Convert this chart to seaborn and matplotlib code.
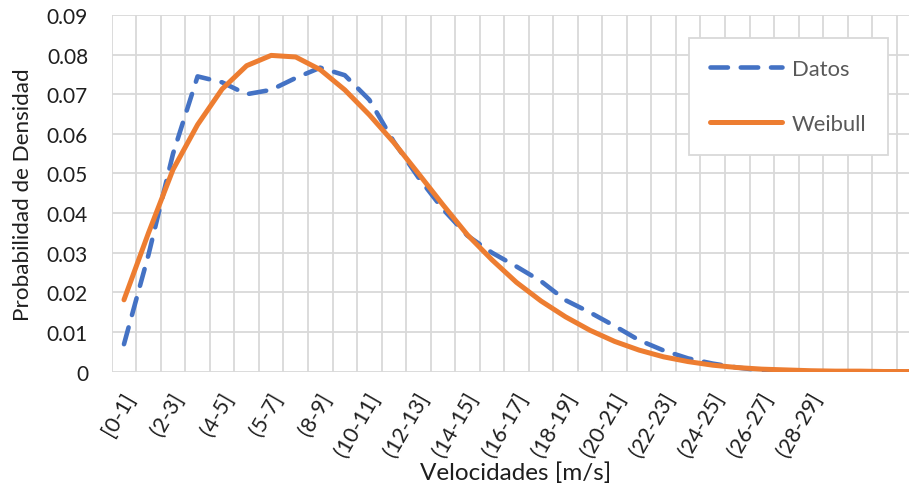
import numpy as np
import pandas as pd
import matplotlib
matplotlib.use("Agg")
import matplotlib.pyplot as plt
import matplotlib.transforms as mtransforms
import seaborn as sns

# ---- data ----
categories = ["[0-1]", "(1-2]", "(2-3]", "(3-4]", "(4-5]", "(5-6]", "(5-7]", "(7-8]",
              "(8-9]", "(9-10]", "(10-11]", "(11-12]", "(12-13]", "(13-14]", "(14-15]",
              "(15-16]", "(16-17]", "(17-18]", "(18-19]", "(19-20]", "(20-21]", "(21-22]",
              "(22-23]", "(23-24]", "(24-25]", "(25-26]", "(26-27]", "(27-28]", "(28-29]",
              "", " ", "  ", "   "]
datos = [0.0069, 0.0295, 0.0550, 0.0745, 0.0730, 0.0700, 0.0711, 0.0741, 0.0767, 0.0748,
         0.0686, 0.0580, 0.0490, 0.0410, 0.0343, 0.0300, 0.0265, 0.0228, 0.0180, 0.0149,
         0.0115, 0.0079, 0.0053, 0.0033, 0.0020, 0.0010, 0.0003, 0.0001, 0.0000, 0.0000,
         0.0000, 0.0000, 0.0000]
weibull = [0.0181, 0.0350, 0.0510, 0.0623, 0.0713, 0.0772, 0.0798, 0.0794, 0.0762, 0.0711,
           0.0648, 0.0578, 0.0500, 0.0421, 0.0345, 0.0282, 0.0225, 0.0178, 0.0138, 0.0104,
           0.0076, 0.0054, 0.0037, 0.0025, 0.0016, 0.0010, 0.0006, 0.0004, 0.0002, 0.0001,
           0.0001, 0.0000, 0.0000]
tick_labels = categories[0:29:2]
y_ticks = [0, 0.01, 0.02, 0.03, 0.04, 0.05, 0.06, 0.07, 0.08, 0.09]
y_tick_labels = ["0", "0.01", "0.02", "0.03", "0.04", "0.05", "0.06", "0.07", "0.08", "0.09"]

sns.set_style("white")
plt.rcParams["font.family"] = ["Lato", "DejaVu Sans"]

BLUE = "#4472C4"
ORANGE = "#ED7D31"
GRID = "#D9D9D9"
TXT = "#1E1E1E"

pos = np.arange(len(categories))
df = pd.DataFrame({"pos": pos, "Datos": datos, "Weibull": weibull})

fig = plt.figure(figsize=(9.09, 4.89), dpi=100)
ax = fig.add_axes([0.1229, 0.2382, 0.8771, 0.7291])

sns.lineplot(data=df, x="pos", y="Datos", ax=ax, color=BLUE, linewidth=3.3,
             linestyle=(0, (3.8, 2.8)), dash_capstyle="round", label="Datos", zorder=3)
sns.lineplot(data=df, x="pos", y="Weibull", ax=ax, color=ORANGE, linewidth=3.6,
             solid_capstyle="round", label="Weibull", zorder=4)

ax.set_xlim(-0.5, 32.0)
ax.set_ylim(0, 0.09)

ax.set_yticks(y_ticks)
ax.set_yticklabels(y_tick_labels)
ax.set_xticks(pos[0:29:2])
ax.set_xticklabels(tick_labels)
ax.set_xticks(np.arange(-0.5, 32.0, 1.0), minor=True)

ax.grid(False)
ax.grid(which="minor", axis="x", color=GRID, linewidth=1.3, zorder=0)
ax.grid(which="major", axis="y", color=GRID, linewidth=1.3, zorder=0)
ax.set_axisbelow(True)
for s in ax.spines.values():
    s.set_visible(False)

ax.tick_params(axis="both", which="both", length=0)
ax.tick_params(axis="y", pad=17, labelsize=15, labelcolor=TXT)
ax.tick_params(axis="x", pad=16, labelsize=15.5, labelcolor=TXT)

offset = mtransforms.ScaledTranslation(0.06, 0, fig.dpi_scale_trans)
for lab in ax.get_xticklabels():
    lab.set_rotation(60)
    lab.set_rotation_mode("anchor")
    lab.set_ha("right")
    lab.set_va("center")
    lab.set_transform(lab.get_transform() + offset)

ax.set_xlabel("Velocidades [m/s]", fontsize=17.5, color=TXT)
ax.set_ylabel("Probabilidad de Densidad", fontsize=16.2, color=TXT)
ax.xaxis.set_label_coords(0.506, -0.252)
ax.yaxis.set_label_coords(-0.099, 0.5)

leg = ax.legend(loc="upper left", bbox_to_anchor=(0.724, 0.935), frameon=True,
                fancybox=False, fontsize=15.8, labelspacing=1.6, handlelength=3.3,
                handletextpad=0.45, borderpad=0.95, borderaxespad=0)
leg.get_frame().set_edgecolor(GRID)
leg.get_frame().set_linewidth(1.3)
leg.get_frame().set_facecolor("white")
leg.get_frame().set_alpha(1)
for t in leg.get_texts():
    t.set_color("#595959")

fig.savefig("out.png", dpi=100, facecolor="white")
